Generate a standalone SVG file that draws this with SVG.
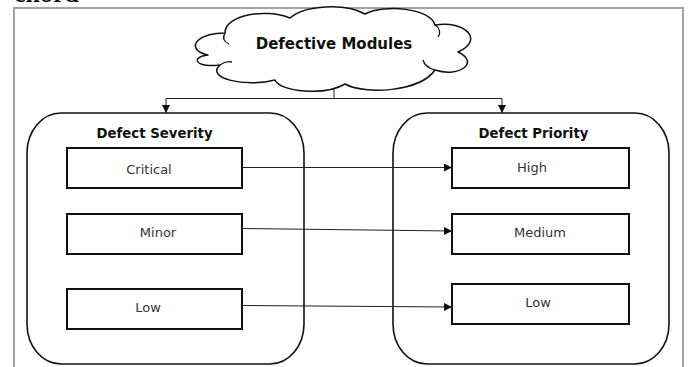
<svg xmlns="http://www.w3.org/2000/svg" width="688" height="367" viewBox="0 0 688 367">
<defs>
<style>
.frame{fill:none;stroke:#a3a3a3;stroke-width:2}
.container{fill:#fff;stroke:#111;stroke-width:1.6}
.box{fill:#fff;stroke:#111;stroke-width:2}
.cloud{fill:#fff;stroke:#111;stroke-width:1.5;stroke-linejoin:round}
.curl{fill:none;stroke:#111;stroke-width:1.3}
.title{font-family:"DejaVu Sans",Verdana,sans-serif;font-weight:bold;fill:#111;text-anchor:middle}
.label{font-family:"DejaVu Sans",Verdana,sans-serif;font-size:13px;fill:#333;text-anchor:middle}
.conn{fill:none;stroke:#222;stroke-width:1}
</style>
<marker id="arrow" viewBox="0 0 10 10" refX="10" refY="5" markerWidth="8" markerHeight="8" markerUnits="userSpaceOnUse" orient="auto">
<path d="M0,0 L10,5 L0,10 Z" fill="#111"/>
</marker>
</defs>
<rect width="688" height="367" fill="#fff"/>
<text x="14" y="2" font-family="Liberation Serif, serif" font-weight="bold" font-size="26" fill="#111">chord</text>
<rect class="frame" x="14" y="8" width="669" height="400"/>

<g id="defective-modules">
<path class="cloud" d="M208,55 C185,50 195,33 225,33 C225,15 265,8 290,18 C305,5 345,3 365,14 C385,4 430,8 435,25 C465,20 485,40 458,52 C480,62 460,78 435,70 C420,92 365,95 345,84 C325,96 280,92 275,80 C245,88 205,78 220,65 C195,68 190,57 208,55 Z"/>
<path class="curl" d="M225,33 C222,38 224,42 229,44"/>
<path class="curl" d="M435,25 C440,28 441,33 438,37"/>
<path class="curl" d="M435,70 C428,68 424,64 423,60"/>
<path class="curl" d="M220,65 C224,62 228,61 232,62"/>
<text class="title" x="334" y="49" font-size="15">Defective Modules</text>
</g>

<g id="defect-severity">
<rect class="container" x="27" y="113" width="277" height="251" rx="34" ry="40"/>
<text class="title" x="154.5" y="138" font-size="13.3">Defect Severity</text>
</g>
<g id="defect-priority">
<rect class="container" x="393" y="113" width="276" height="251" rx="34" ry="40"/>
<text class="title" x="533.5" y="138" font-size="13.3">Defect Priority</text>
</g>

<g id="critical">
<rect class="box" x="67" y="148" width="175" height="40"/>
<text class="label" x="149" y="174">Critical</text>
</g>
<g id="minor">
<rect class="box" x="67" y="214" width="175" height="40"/>
<text class="label" x="158" y="237">Minor</text>
</g>
<g id="low-severity">
<rect class="box" x="67" y="289" width="175" height="40"/>
<text class="label" x="148" y="312">Low</text>
</g>
<g id="high">
<rect class="box" x="452" y="148" width="177" height="40"/>
<text class="label" x="532" y="172">High</text>
</g>
<g id="medium">
<rect class="box" x="452" y="214" width="177" height="40"/>
<text class="label" x="540" y="237">Medium</text>
</g>
<g id="low-priority">
<rect class="box" x="452" y="284" width="177" height="40"/>
<text class="label" x="538" y="307">Low</text>
</g>

<g id="connectors">
<path class="conn" d="M334,88 V98.5 M166,98.5 H502"/>
<path class="conn" d="M166,98.5 V113" marker-end="url(#arrow)"/>
<path class="conn" d="M502,98.5 V113" marker-end="url(#arrow)"/>
<path class="conn" d="M242,167.5 H452" marker-end="url(#arrow)"/>
<path class="conn" d="M242,228.5 L452,231" marker-end="url(#arrow)"/>
<path class="conn" d="M242,305.5 L452,307" marker-end="url(#arrow)"/>
</g>
</svg>
